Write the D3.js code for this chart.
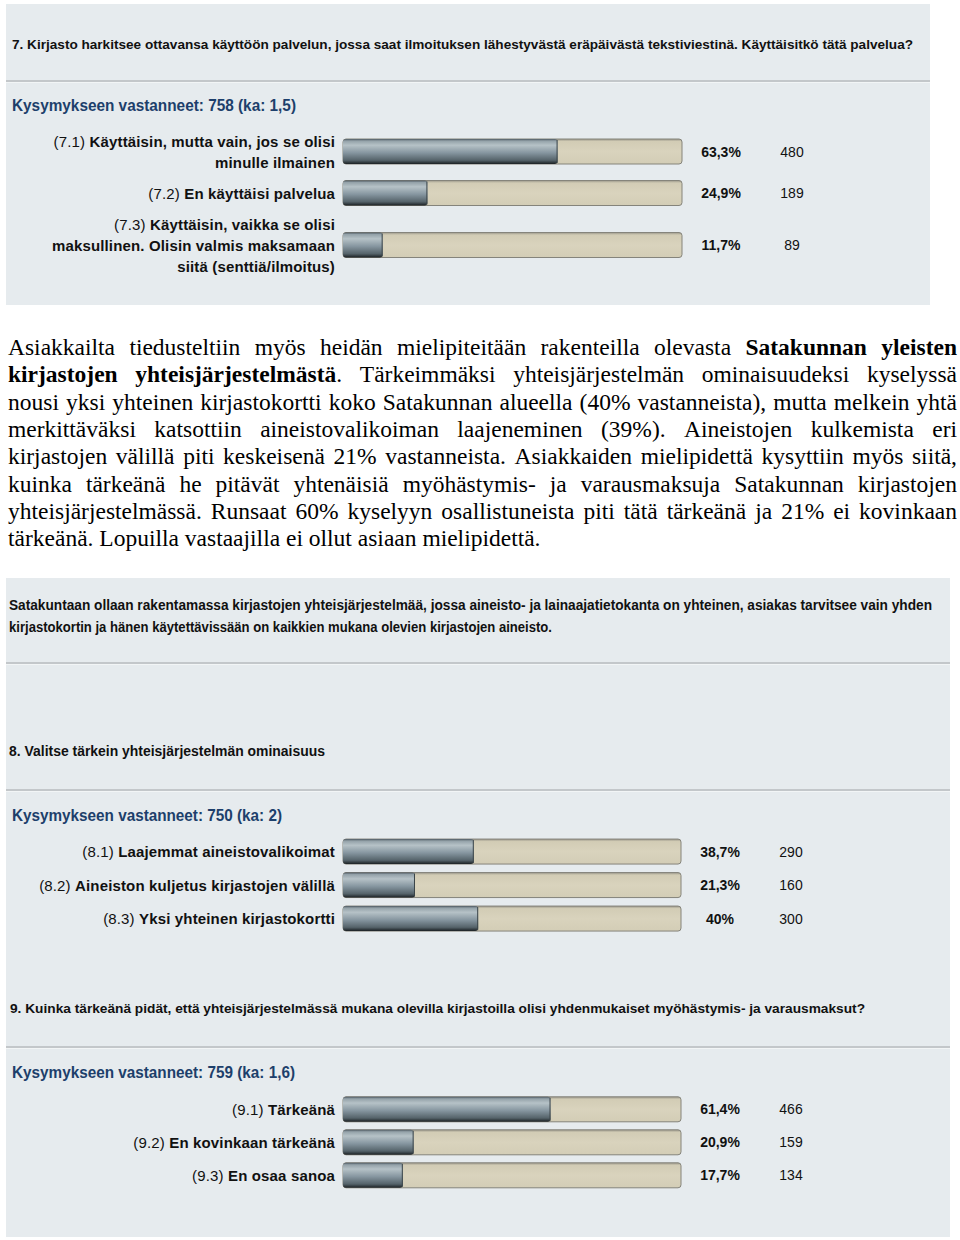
<!DOCTYPE html>
<html><head><meta charset="utf-8">
<script src="https://cdn.jsdelivr.net/npm/d3@7"></script>
<style>body{margin:0;background:#fff} svg{display:block}</style>
</head><body><svg id="c" width="960" height="1240"></svg>
<script>
// ---------- DATA ----------
const q7Title = "7. Kirjasto harkitsee ottavansa käyttöön palvelun, jossa saat ilmoituksen lähestyvästä eräpäivästä tekstiviestinä. Käyttäisitkö tätä palvelua?";
const q7Answered = "Kysymykseen vastanneet: 758 (ka: 1,5)";
const q7Codes = ["(7.1)", "(7.2)", "(7.3)"];
const q7Labels = [["Käyttäisin, mutta vain, jos se olisi", "minulle ilmainen"], ["En käyttäisi palvelua"], ["Käyttäisin, vaikka se olisi", "maksullinen. Olisin valmis maksamaan", "siitä (senttiä/ilmoitus)"]];
const q7Values = [63.3, 24.9, 11.7];
const q7PctLabels = ["63,3%", "24,9%", "11,7%"];
const q7Counts = [480, 189, 89];

const paragraphLines = [
  "Asiakkailta tiedusteltiin myös heidän mielipiteitään rakenteilla olevasta **Satakunnan yleisten**",
  "**kirjastojen yhteisjärjestelmästä**. Tärkeimmäksi yhteisjärjestelmän ominaisuudeksi kyselyssä",
  "nousi yksi yhteinen kirjastokortti koko Satakunnan alueella (40% vastanneista), mutta melkein yhtä",
  "merkittäväksi katsottiin aineistovalikoiman laajeneminen (39%). Aineistojen kulkemista eri",
  "kirjastojen välillä piti keskeisenä 21% vastanneista. Asiakkaiden mielipidettä kysyttiin myös siitä,",
  "kuinka tärkeänä he pitävät yhtenäisiä myöhästymis- ja varausmaksuja Satakunnan kirjastojen",
  "yhteisjärjestelmässä. Runsaat 60% kyselyyn osallistuneista piti tätä tärkeänä ja 21% ei kovinkaan",
  "tärkeänä. Lopuilla vastaajilla ei ollut asiaan mielipidettä."
];

const introLines = [
  "Satakuntaan ollaan rakentamassa kirjastojen yhteisjärjestelmää, jossa aineisto- ja lainaajatietokanta on yhteinen, asiakas tarvitsee vain yhden",
  "kirjastokortin ja hänen käytettävissään on kaikkien mukana olevien kirjastojen aineisto."
];

const q8Title = "8. Valitse tärkein yhteisjärjestelmän ominaisuus";
const q8Answered = "Kysymykseen vastanneet: 750 (ka: 2)";
const q8Codes = ["(8.1)", "(8.2)", "(8.3)"];
const q8Labels = [["Laajemmat aineistovalikoimat"], ["Aineiston kuljetus kirjastojen välillä"], ["Yksi yhteinen kirjastokortti"]];
const q8Values = [38.7, 21.3, 40];
const q8PctLabels = ["38,7%", "21,3%", "40%"];
const q8Counts = [290, 160, 300];

const q9Title = "9. Kuinka tärkeänä pidät, että yhteisjärjestelmässä mukana olevilla kirjastoilla olisi yhdenmukaiset myöhästymis- ja varausmaksut?";
const q9Answered = "Kysymykseen vastanneet: 759 (ka: 1,6)";
const q9Codes = ["(9.1)", "(9.2)", "(9.3)"];
const q9Labels = [["Tärkeänä"], ["En kovinkaan tärkeänä"], ["En osaa sanoa"]];
const q9Values = [61.4, 20.9, 17.7];
const q9PctLabels = ["61,4%", "20,9%", "17,7%"];
const q9Counts = [466, 159, 134];

// ---------- DRAW ----------
const svg = d3.select("#c");
const SANS = "'Liberation Sans', Arial, sans-serif";
const NARROW = "'Liberation Sans Narrow', 'Arial Narrow', 'Liberation Sans', sans-serif";
const SERIF = "'Liberation Serif', 'Times New Roman', serif";

const defs = svg.append("defs");
const grad = defs.append("linearGradient").attr("id", "barGrad")
  .attr("x1", 0).attr("y1", 0).attr("x2", 0).attr("y2", 1);
[[0, "#4f5a62"], [0.08, "#94a2a9"], [0.25, "#b6c2c7"], [0.55, "#8696a0"], [0.85, "#55636a"], [1, "#1a1f22"]]
  .forEach(([o, c]) => grad.append("stop").attr("offset", o).attr("stop-color", c));
const bgGrad = defs.append("linearGradient").attr("id", "bgGrad")
  .attr("x1", 0).attr("y1", 0).attr("x2", 0).attr("y2", 1);
[[0, "#9a978a"], [0.1, "#d2ccb5"], [0.5, "#d9d3bd"], [1, "#d3cdb6"]]
  .forEach(([o, c]) => bgGrad.append("stop").attr("offset", o).attr("stop-color", c));

// panels
svg.append("rect").attr("x", 6).attr("y", 4).attr("width", 924).attr("height", 301).attr("fill", "#e6ebee");
svg.append("rect").attr("x", 6).attr("y", 578).attr("width", 944).attr("height", 659).attr("fill", "#e6ebee");

function sep(x1, x2, y) {
  svg.append("line").attr("x1", x1).attr("x2", x2).attr("y1", y).attr("y2", y)
    .attr("stroke", "#c3c7ca").attr("stroke-width", 2);
  svg.append("line").attr("x1", x1).attr("x2", x2).attr("y1", y + 1.5).attr("y2", y + 1.5)
    .attr("stroke", "#f2f5f6").attr("stroke-width", 1);
}
sep(6, 930, 81);
sep(6, 950, 663);
sep(6, 950, 790);
sep(6, 950, 1047);

function fitText(x, y, str, size, width, opts = {}) {
  return svg.append("text").attr("x", x).attr("y", y)
    .attr("font-family", opts.family || SANS).attr("font-size", size)
    .attr("font-weight", opts.weight || "bold").attr("fill", opts.fill || "#111")
    .attr("textLength", width).attr("lengthAdjust", "spacingAndGlyphs").text(str);
}

fitText(12, 49, q7Title, 13, 901);
fitText(9, 610, introLines[0], 14, 923, { family: NARROW });
fitText(9, 632, introLines[1], 14, 543, { family: NARROW });
fitText(9, 756, q8Title, 14, 316, { family: NARROW });
fitText(10, 1013, q9Title, 13, 855);

function drawQuestion(cfg) {
  const { answered, answeredY, answeredW, codes, labels, values, pctLabels, counts, centers } = cfg;
  fitText(12, answeredY, answered, 16, answeredW, { fill: "#1d3f6b" });
  const x = d3.scaleLinear().domain([0, 100]).range([343, cfg.xEnd]);
  const yC = d3.scaleOrdinal().domain(codes).range(centers);
  const h = 25, lh = 21;
  const g = svg.append("g");
  const rows = g.selectAll("g.row").data(codes.map((c, i) => ({
    code: c, lines: labels[i], v: values[i], pct: pctLabels[i], n: counts[i]
  }))).join("g").attr("class", "row");

  rows.append("rect").attr("x", x(0)).attr("y", d => yC(d.code) - h / 2)
    .attr("width", x(100) - x(0)).attr("height", h).attr("rx", 3)
    .attr("fill", "url(#bgGrad)").attr("stroke", "#85847b").attr("stroke-width", 1);
  rows.append("rect").attr("x", x(0)).attr("y", d => yC(d.code) - h / 2)
    .attr("width", d => x(d.v) - x(0)).attr("height", h).attr("rx", 3)
    .attr("fill", "url(#barGrad)");
  rows.append("line").attr("x1", d => x(d.v) - 0.5).attr("x2", d => x(d.v) - 0.5)
    .attr("y1", d => yC(d.code) - h / 2 + 1).attr("y2", d => yC(d.code) + h / 2 - 1)
    .attr("stroke", "#3a4448").attr("stroke-width", 1);

  rows.each(function (d) {
    const sel = d3.select(this);
    const n = d.lines.length;
    d.lines.forEach((ln, j) => {
      const t = sel.append("text").attr("x", 335)
        .attr("y", yC(d.code) + (j - (n - 1) / 2) * lh + 5.5)
        .attr("text-anchor", "end").attr("font-family", SANS).attr("font-size", 15)
        .attr("fill", "#111").attr("letter-spacing", 0.15);
      if (j === 0) t.append("tspan").attr("font-weight", "normal").text(d.code + " ");
      t.append("tspan").attr("font-weight", "bold").text(ln);
    });
  });
  rows.append("text").attr("x", x(100) + 39).attr("y", d => yC(d.code) + 5)
    .attr("text-anchor", "middle").attr("font-family", SANS).attr("font-size", 14)
    .attr("font-weight", "bold").attr("fill", "#111").text(d => d.pct);
  rows.append("text").attr("x", x(100) + 110).attr("y", d => yC(d.code) + 5)
    .attr("text-anchor", "middle").attr("font-family", SANS).attr("font-size", 14)
    .attr("fill", "#111").text(d => d.n);
}

// q7 row centres from number of label lines
const q7Heights = q7Labels.map(l => l.length * 21 + 10);
let acc = 151.5 - q7Heights[0] / 2;
const q7Centers = q7Heights.map(hh => { const c = acc + hh / 2; acc += hh; return c; });

drawQuestion({ answered: q7Answered, answeredY: 111, answeredW: 284, codes: q7Codes, labels: q7Labels,
  values: q7Values, pctLabels: q7PctLabels, counts: q7Counts, centers: q7Centers, xEnd: 682 });

const band8 = d3.scaleBand().domain(q8Codes).range([834.8, 935.3]).paddingInner(0.25).paddingOuter(0.125);
drawQuestion({ answered: q8Answered, answeredY: 821, answeredW: 270, codes: q8Codes, labels: q8Labels,
  values: q8Values, pctLabels: q8PctLabels, counts: q8Counts,
  centers: q8Codes.map(c => band8(c) + band8.bandwidth() / 2), xEnd: 681 });

const band9 = d3.scaleBand().domain(q9Codes).range([1092.8, 1191.8]).paddingInner(0.25).paddingOuter(0.125);
drawQuestion({ answered: q9Answered, answeredY: 1078, answeredW: 283, codes: q9Codes, labels: q9Labels,
  values: q9Values, pctLabels: q9PctLabels, counts: q9Counts,
  centers: q9Codes.map(c => band9(c) + band9.bandwidth() / 2), xEnd: 681 });

// ---------- justified paragraph ----------
function parseLine(s) {
  let bold = false; const words = [];
  s.split(" ").forEach(w => {
    const segs = []; const parts = w.split("**");
    parts.forEach((p, i) => { if (i > 0) bold = !bold; if (p) segs.push({ t: p, b: bold }); });
    words.push(segs);
  });
  return words;
}
const PX0 = 8, PX1 = 957, FS = 23.5;
paragraphLines.forEach((line, i) => {
  const y = 355 + i * 27.3;
  const words = parseLine(line);
  const els = words.map(segs => {
    const t = svg.append("text").attr("y", y).attr("font-family", SERIF).attr("font-size", FS).attr("fill", "#000");
    segs.forEach(s => t.append("tspan").attr("font-weight", s.b ? "bold" : "normal").text(s.t));
    return t;
  });
  const widths = els.map(e => e.node().getComputedTextLength());
  const total = d3.sum(widths);
  const last = i === paragraphLines.length - 1;
  const gap = last ? FS * 0.25 : (PX1 - PX0 - total) / (els.length - 1);
  let xx = PX0;
  els.forEach((e, k) => { e.attr("x", xx); xx += widths[k] + gap; });
});
</script></body></html>
